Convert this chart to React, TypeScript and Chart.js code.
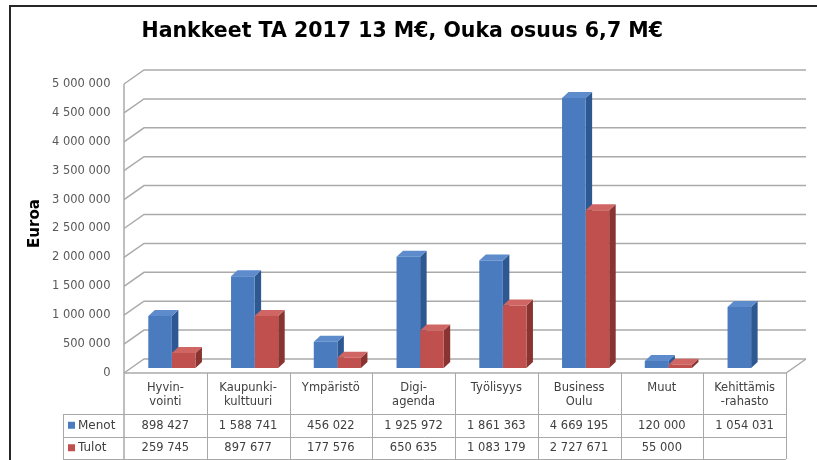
import React, { useEffect, useRef } from "react";
import { Chart, registerables } from "chart.js";

Chart.register(...registerables);

// ---------- data ----------
const chartTitle = "Hankkeet TA 2017 13 M€, Ouka osuus 6,7 M€";
const yAxisTitle = "Euroa";
const categories: string[][] = [
  ["Hyvin-", "vointi"],
  ["Kaupunki-", "kulttuuri"],
  ["Ympäristö"],
  ["Digi-", "agenda"],
  ["Työlisyys"],
  ["Business", "Oulu"],
  ["Muut"],
  ["Kehittämis", "-rahasto"],
];
const seriesNames = ["Menot", "Tulot"];
const menot: (number | null)[] = [898427, 1588741, 456022, 1925972, 1861363, 4669195, 120000, 1054031];
const tulot: (number | null)[] = [259745, 897677, 177576, 650635, 1083179, 2727671, 55000, null];
const yMin = 0;
const yMax = 5000000;
const yStep = 500000;

// ---------- styles ----------
const FONT = "DejaVu Sans";
const COLORS = [
  { front: "#4a7bbf", side: "#2d5892", top: "#5d8bcb" },
  { front: "#c0504d", side: "#8a3431", top: "#cf6663" },
];
const GRID = "#aaaaaa";
const TABLE_LINE = "#a8a8a8";
const BAR_SHIFT = 6.5; // bars stand a bit behind the front plane
const BAR_DX = 6.5;
const BAR_DY = 6;
const WALL_DX = 20;
const FRONT_OFF = 5;
const BACK_OFF = -9;
const TABLE_LEFT = 63;
const ROW_LINES = [414, 436.5, 459];

const fmt = (v: number | null) =>
  v === null || v === undefined ? "" : String(v).replace(/\B(?=(\d{3})+(?!\d))/g, " ");

const threeD = {
  id: "threeD",
  beforeDatasetsDraw(chart: any) {
    const { ctx, scales } = chart;
    const x = scales.x;
    const y = scales.y;
    const left = x.left - BAR_SHIFT;
    const right = x.right - BAR_SHIFT;
    ctx.save();
    // walls: gridlines on back wall + side wall
    ctx.strokeStyle = GRID;
    ctx.lineWidth = 1.5;
    y.ticks.forEach((t: any) => {
      const p = y.getPixelForValue(t.value);
      ctx.beginPath();
      ctx.moveTo(left, p + FRONT_OFF);
      ctx.lineTo(left + WALL_DX, p + BACK_OFF);
      ctx.lineTo(right + WALL_DX, p + BACK_OFF);
      ctx.stroke();
    });
    const p0 = y.getPixelForValue(yMin);
    const pTop = y.getPixelForValue(yMax);
    // floor front edge and right side
    ctx.beginPath();
    ctx.moveTo(left, p0 + FRONT_OFF);
    ctx.lineTo(right, p0 + FRONT_OFF);
    ctx.lineTo(right + WALL_DX, p0 + BACK_OFF);
    ctx.stroke();
    // front wall edge
    ctx.beginPath();
    ctx.moveTo(left, pTop + FRONT_OFF);
    ctx.lineTo(left, ROW_LINES[2]);
    ctx.stroke();

    // bar sides and tops
    chart.data.datasets.forEach((ds: any, d: number) => {
      const meta = chart.getDatasetMeta(d);
      meta.data.forEach((bar: any, i: number) => {
        if (ds.data[i] === null || ds.data[i] === undefined) return;
        const { x: bx, y: by, base, width } = bar.getProps(["x", "y", "base", "width"], true);
        const x0 = bx - width / 2;
        const x1 = bx + width / 2;
        ctx.fillStyle = COLORS[d].side;
        ctx.beginPath();
        ctx.moveTo(x1, by);
        ctx.lineTo(x1 + BAR_DX, by - BAR_DY);
        ctx.lineTo(x1 + BAR_DX, base - BAR_DY);
        ctx.lineTo(x1, base);
        ctx.closePath();
        ctx.fill();
        ctx.fillStyle = COLORS[d].top;
        ctx.beginPath();
        ctx.moveTo(x0, by);
        ctx.lineTo(x1, by);
        ctx.lineTo(x1 + BAR_DX, by - BAR_DY);
        ctx.lineTo(x0 + BAR_DX, by - BAR_DY);
        ctx.closePath();
        ctx.fill();
      });
    });
    ctx.restore();
  },
  afterDraw(chart: any) {
    const { ctx, scales } = chart;
    const x = scales.x;
    const y = scales.y;
    const n = categories.length;
    const cw = x.width / n;
    const left = x.left - BAR_SHIFT;
    const right = x.right - BAR_SHIFT;
    const headerTop = y.getPixelForValue(yMin) + FRONT_OFF;
    ctx.save();
    ctx.strokeStyle = TABLE_LINE;
    ctx.lineWidth = 1;
    // vertical column lines
    for (let k = 1; k <= n; k++) {
      const px = Math.round(left + cw * k) + 0.5;
      ctx.beginPath();
      ctx.moveTo(px, headerTop);
      ctx.lineTo(px, ROW_LINES[2]);
      ctx.stroke();
    }
    // horizontal row lines
    ROW_LINES.forEach((ly) => {
      ctx.beginPath();
      ctx.moveTo(TABLE_LEFT, Math.round(ly) + 0.5);
      ctx.lineTo(right, Math.round(ly) + 0.5);
      ctx.stroke();
    });
    ctx.beginPath();
    ctx.moveTo(TABLE_LEFT + 0.5, ROW_LINES[0]);
    ctx.lineTo(TABLE_LEFT + 0.5, ROW_LINES[2]);
    ctx.stroke();

    const rows = [menot, tulot];
    rows.forEach((vals, r) => {
      const cy = (ROW_LINES[r] + ROW_LINES[r + 1]) / 2;
      ctx.fillStyle = COLORS[r].front;
      ctx.fillRect(TABLE_LEFT + 5, cy - 3.5, 7, 7);
      ctx.fillStyle = "#404040";
      ctx.font = `12px "${FONT}"`;
      ctx.textAlign = "left";
      ctx.textBaseline = "middle";
      ctx.fillText(seriesNames[r], TABLE_LEFT + 15, cy + 0.5);
      ctx.font = `11.5px "${FONT}"`;
      ctx.textAlign = "center";
      vals.forEach((v, i) => {
        const cx = x.getPixelForValue(i) - BAR_SHIFT;
        ctx.fillText(fmt(v), cx, cy + 0.5);
      });
    });

    // outer frame
    ctx.strokeStyle = "#262626";
    ctx.lineWidth = 2;
    ctx.beginPath();
    ctx.moveTo(10, 460);
    ctx.lineTo(10, 6);
    ctx.lineTo(817, 6);
    ctx.stroke();
    ctx.restore();
  },
};

export default function App() {
  const ref = useRef<HTMLCanvasElement | null>(null);
  useEffect(() => {
    if (!ref.current) return;
    const chart = new Chart(ref.current, {
      type: "bar",
      data: {
        labels: categories,
        datasets: [
          { label: seriesNames[0], data: menot, backgroundColor: COLORS[0].front, borderWidth: 0 },
          { label: seriesNames[1], data: tulot, backgroundColor: COLORS[1].front, borderWidth: 0 },
        ],
      },
      options: {
        responsive: false,
        devicePixelRatio: 1,
        animation: false,
        categoryPercentage: 0.57,
        barPercentage: 1,
        layout: { padding: { top: 6, left: 12, right: 24.5, bottom: 0 } },
        plugins: {
          legend: { display: false },
          tooltip: { enabled: false },
          title: {
            display: true,
            text: chartTitle,
            color: "#000",
            font: { family: FONT, size: 20.5, weight: "bold" },
            padding: { top: 13.7, bottom: 34.7 },
          },
        },
        scales: {
          x: {
            type: "category",
            grid: { display: false, drawTicks: false },
            border: { display: false },
            ticks: {
              padding: 12.8,
              labelOffset: -BAR_SHIFT,
              maxRotation: 0,
              autoSkip: false,
              color: "#404040",
              font: { family: FONT, size: 11.5, lineHeight: 1.25 },
            },
            afterFit: (s: any) => {
              s.height = 92;
            },
          },
          y: {
            min: yMin,
            max: yMax,
            grid: { display: false, drawTicks: false },
            border: { display: false },
            ticks: {
              stepSize: yStep,
              labelOffset: FRONT_OFF,
              padding: 20,
              color: "#595959",
              font: { family: FONT, size: 11.5 },
              callback: (v: any) => fmt(Number(v)),
            },
            title: {
              display: true,
              text: yAxisTitle,
              color: "#000",
              font: { family: FONT, size: 15, weight: "bold" },
              padding: { top: 14, bottom: 0 },
            },
            afterFit: (s: any) => {
              s.width = 118.5;
            },
          },
        },
      },
      plugins: [threeD],
    });
    return () => chart.destroy();
  }, []);
  return (
    <div style={{ position: "fixed", left: 0, top: 0, width: 817, height: 460, background: "#fff" }}>
      <canvas ref={ref} width={817} height={460} style={{ display: "block" }} />
    </div>
  );
}
